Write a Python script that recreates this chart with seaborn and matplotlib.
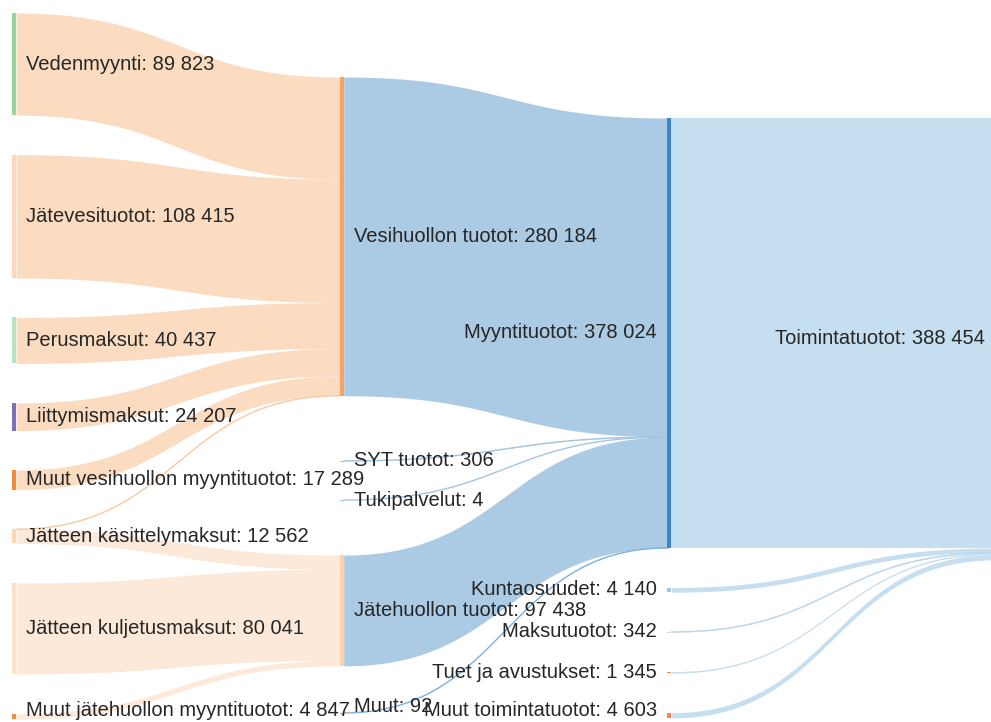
import numpy as np
import matplotlib
matplotlib.use("Agg")
import matplotlib.pyplot as plt
import seaborn as sns

# ---------------- data ----------------
node_names = [
    "Vedenmyynti", "Jätevesituotot", "Perusmaksut", "Liittymismaksut",
    "Muut vesihuollon myyntituotot", "Jätteen käsittelymaksut",
    "Jätteen kuljetusmaksut", "Muut jätehuollon myyntituotot",
    "Vesihuollon tuotot", "SYT tuotot", "Tukipalvelut", "Jätehuollon tuotot", "Muut",
    "Myyntituotot", "Kuntaosuudet", "Maksutuotot", "Tuet ja avustukset",
    "Muut toimintatuotot", "Toimintatuotot",
]
node_columns = [0] * 8 + [1] * 5 + [2] * 5 + [3]

link_sources = [0, 1, 2, 3, 4, 5, 5, 6, 7, 8, 9, 10, 11, 12, 13, 14, 15, 16, 17]
link_targets = [8, 8, 8, 8, 8, 8, 11, 11, 11, 13, 13, 13, 13, 13, 18, 18, 18, 18, 18]
link_values = [89823, 108415, 40437, 24207, 17289, 12, 12550, 80041, 4847,
               280184, 306, 4, 97438, 92,
               378024, 4140, 342, 1345, 4603]

# ---------------- style / layout ----------------
node_colors = [
    "#96d5a0", "#fcd7b8", "#b5e3bf", "#7b70b9", "#f5893f", "#fdd6b3", "#fde0c8", "#f5893f",
    "#f4a464", "#9ecae1", "#9ecae1", "#fdd2a8", "#6fa8d8",
    "#3d84c6", "#9ecae1", "#c6dbef", "#f5893f", "#f5893f", "#c6dff0",
]
link_color_by_target = {8: "#fcdcc1", 11: "#fde9d9", 13: "#abcae3", 18: "#c5dff0"}
thin_link_color = {8: "#f9c9a3", 11: "#fbd9bd", 13: "#a3c6e4", 18: "#b8d6ee"}

W, H = 991, 722
px_per_unit = 430.0 / 378024.0
col_x0, col_dx, node_w = 12.0, 327.7, 4.0
col_start = {0: 13.0, 1: 77.0, 2: 118.0, 3: 118.0}
default_pad = 39.5
gap_before = {9: 65.0, 10: 39.0, 11: 55.0, 12: 47.0}
label_off = 10.5
label_ymax = {0: H - 11.0, 1: H - 16.0, 2: H - 11.0, 3: H - 11.0}

sns.set_theme(style="white")
plt.rcParams["font.family"] = ["Liberation Sans", "DejaVu Sans"]

# ---------------- compute layout ----------------
n = len(node_names)
in_sum = np.zeros(n)
out_sum = np.zeros(n)
for s, t, v in zip(link_sources, link_targets, link_values):
    out_sum[s] += v
    in_sum[t] += v
node_val = np.maximum(in_sum, out_sum)
node_h = node_val * px_per_unit

node_top = np.zeros(n)
cursor = {}
for i in range(n):
    c = node_columns[i]
    if c not in cursor:
        node_top[i] = col_start[c]
    else:
        node_top[i] = cursor[c] + gap_before.get(i, default_pad)
    cursor[c] = node_top[i] + node_h[i]
node_x = np.array([col_x0 + col_dx * c for c in node_columns])

fig = plt.figure(figsize=(W / 100, H / 100), dpi=100)
ax = fig.add_axes([0, 0, 1, 1])
ax.set_xlim(0, W)
ax.set_ylim(H, 0)
ax.axis("off")

# link ordering: at source by target position, at target by source position
src_off = node_top.copy()
tgt_off = node_top.copy()
order_src = sorted(range(len(link_values)), key=lambda j: (link_sources[j], node_top[link_targets[j]]))
link_y0 = {}
for j in order_src:
    s = link_sources[j]
    link_y0[j] = src_off[s]
    src_off[s] += link_values[j] * px_per_unit
order_tgt = sorted(range(len(link_values)), key=lambda j: (link_targets[j], node_top[link_sources[j]]))
link_y1 = {}
for j in order_tgt:
    t = link_targets[j]
    link_y1[j] = tgt_off[t]
    tgt_off[t] += link_values[j] * px_per_unit

tt = np.linspace(0, 1, 200)
b0 = (1 - tt) ** 3 + 3 * (1 - tt) ** 2 * tt
b1 = 3 * (1 - tt) * tt ** 2 + tt ** 3
for j, v in enumerate(link_values):
    s, t = link_sources[j], link_targets[j]
    x0 = node_x[s] + node_w
    x1 = node_x[t]
    xm = (x0 + x1) / 2
    xs = (1 - tt) ** 3 * x0 + 3 * (1 - tt) ** 2 * tt * xm + 3 * (1 - tt) * tt ** 2 * xm + tt ** 3 * x1
    h = v * px_per_unit
    ytop = link_y0[j] * b0 + link_y1[j] * b1
    col = link_color_by_target[t]
    ax.fill_between(xs, ytop, ytop + h, color=col, lw=0, zorder=1)
    if h < 1.2:
        lc = "#7fb0dc" if s == 12 else thin_link_color[t]
        ax.plot(xs, ytop + h / 2, color=lc, lw=1.0, zorder=1.5)

# nodes
ax.bar(node_x, np.maximum(node_h, 1.0), bottom=node_top, width=node_w, align="edge",
       color=node_colors, linewidth=0, zorder=2)

# labels
for i in range(n):
    txt = f"{node_names[i]}: {int(round(node_val[i])):,}".replace(",", " ")
    c = node_columns[i]
    yc = min(node_top[i] + node_h[i] / 2, label_ymax[c])
    if c <= 1:
        ax.text(node_x[i] + node_w + label_off, yc, txt, ha="left", va="center",
                fontsize=14.5, color="#262626", zorder=3)
    else:
        ax.text(node_x[i] - label_off, yc, txt, ha="right", va="center",
                fontsize=14.5, color="#262626", zorder=3)

fig.savefig("out.png", dpi=100)
